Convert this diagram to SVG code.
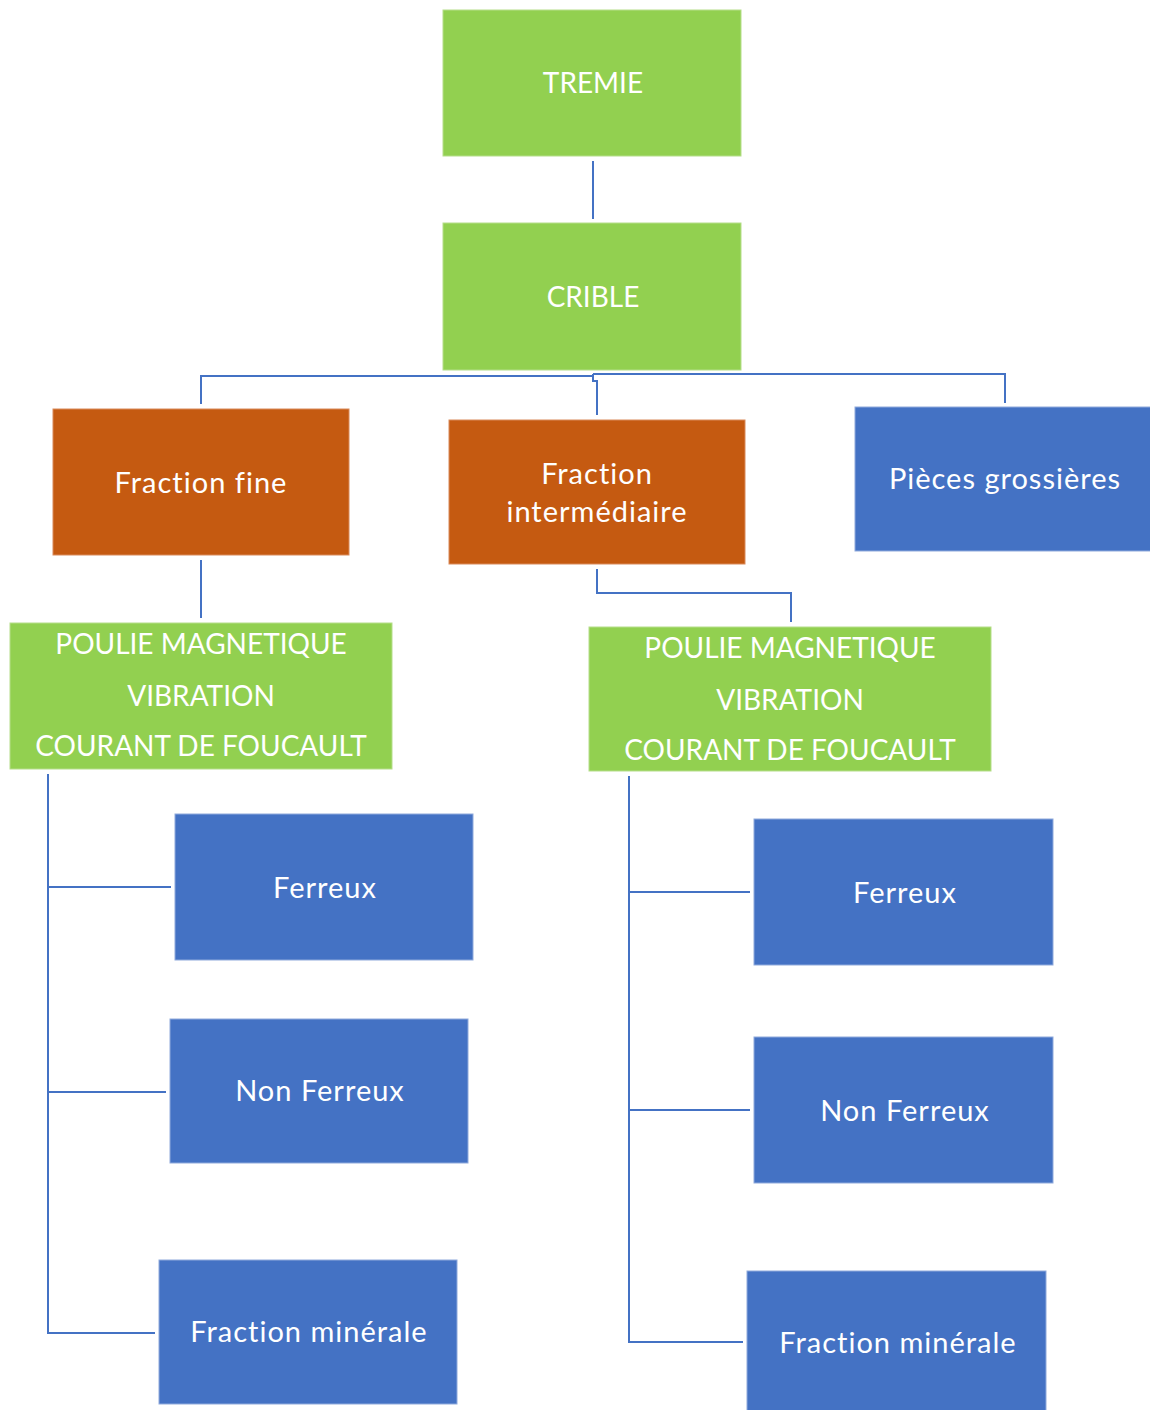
<svg xmlns="http://www.w3.org/2000/svg" width="1150" height="1410" viewBox="0 0 1150 1410">
<style>
.g{fill:#92D050;stroke:#B5DE8A;stroke-width:1}
.o{fill:#C55A11;stroke:#D98A5A;stroke-width:1}
.b{fill:#4472C4;stroke:#8FAADC;stroke-width:1}
.t{fill:#FFFFFF;font-family:Lato,"Open Sans","Liberation Sans",sans-serif;font-size:28px;text-anchor:middle;dominant-baseline:central}
.m{font-size:29px;letter-spacing:1px}
.c{fill:none;stroke:#4472C4;stroke-width:2}
</style>
<rect width="1150" height="1410" fill="#FFFFFF"/>
<g id="connectors">
<path class="c" d="M593 161V219"/>
<path class="c" d="M201 404V376H593"/>
<path class="c" d="M593 374V381H597V415"/>
<path class="c" d="M593 374H1005V403"/>
<path class="c" d="M201 560V618"/>
<path class="c" d="M597 569V593H791V622"/>
<path class="c" d="M48 774V1333H155"/>
<path class="c" d="M48 887H171"/>
<path class="c" d="M48 1092H166"/>
<path class="c" d="M629 776V1342H743"/>
<path class="c" d="M629 892H750"/>
<path class="c" d="M629 1110H750"/>
</g>
<g id="tremie"><rect class="g" x="443" y="10" width="298" height="146"/><text class="t" x="593" y="82">TREMIE</text></g>
<g id="crible"><rect class="g" x="443" y="223" width="298" height="147"/><text class="t" x="593" y="296">CRIBLE</text></g>
<g id="fraction-fine"><rect class="o" x="53" y="409" width="296" height="146"/><text class="t m" x="201" y="481">Fraction fine</text></g>
<g id="fraction-intermediaire"><rect class="o" x="449" y="420" width="296" height="144"/><text class="t m" x="597" y="472">Fraction</text><text class="t m" x="597" y="510">intermédiaire</text></g>
<g id="pieces-grossieres"><rect class="b" x="855" y="407" width="296" height="144"/><text class="t m" x="1005" y="477">Pièces grossières</text></g>
<g id="poulie-gauche"><rect class="g" x="10" y="623" width="382" height="146"/><text class="t" x="201" y="643">POULIE MAGNETIQUE</text><text class="t" x="201" y="695">VIBRATION</text><text class="t" x="201" y="745">COURANT DE FOUCAULT</text></g>
<g id="poulie-droite"><rect class="g" x="589" y="627" width="402" height="144"/><text class="t" x="790" y="647">POULIE MAGNETIQUE</text><text class="t" x="790" y="699">VIBRATION</text><text class="t" x="790" y="749">COURANT DE FOUCAULT</text></g>
<g id="ferreux-gauche"><rect class="b" x="175" y="814" width="298" height="146"/><text class="t m" x="325" y="886">Ferreux</text></g>
<g id="non-ferreux-gauche"><rect class="b" x="170" y="1019" width="298" height="144"/><text class="t m" x="320" y="1089">Non Ferreux</text></g>
<g id="fraction-minerale-gauche"><rect class="b" x="159" y="1260" width="298" height="144"/><text class="t m" x="309" y="1330">Fraction minérale</text></g>
<g id="ferreux-droite"><rect class="b" x="754" y="819" width="299" height="146"/><text class="t m" x="905" y="891">Ferreux</text></g>
<g id="non-ferreux-droite"><rect class="b" x="754" y="1037" width="299" height="146"/><text class="t m" x="905" y="1109">Non Ferreux</text></g>
<g id="fraction-minerale-droite"><rect class="b" x="747" y="1271" width="299" height="145"/><text class="t m" x="898" y="1341">Fraction minérale</text></g>
</svg>
